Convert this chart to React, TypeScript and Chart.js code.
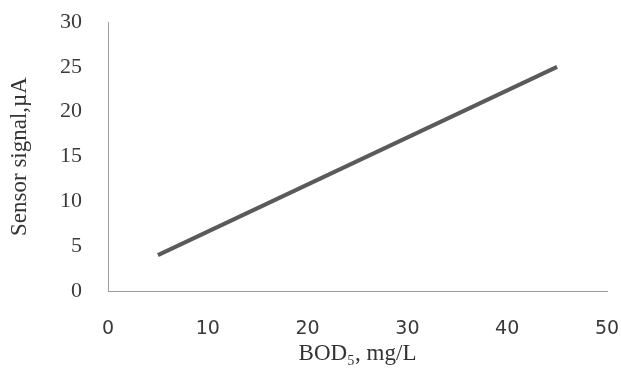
import React, { useEffect, useRef } from "react";
import { Chart, registerables } from "chart.js";

Chart.register(...registerables);

const bodValues = [5, 45];
const signalValues = [4, 25];
const xTickStep = 10;
const yTickStep = 5;
const xTitle = "BOD\u2085, mg/L";
const yTitle = "Sensor signal,\u00b5A";

export default function App() {
  const ref = useRef<HTMLCanvasElement | null>(null);
  useEffect(() => {
    if (!ref.current) return;
    const chart = new Chart(ref.current, {
      type: "line",
      data: {
        datasets: [
          {
            data: bodValues.map((x, i) => ({ x, y: signalValues[i] })),
            borderColor: "#5a5a5a",
            borderWidth: 4,
            pointRadius: 0,
            fill: false,
            tension: 0,
          },
        ],
      },
      options: {
        animation: false,
        responsive: false,
        maintainAspectRatio: false,
        layout: { padding: { top: 22, right: 14, left: 0, bottom: 0 } },
        plugins: { legend: { display: false }, tooltip: { enabled: false } },
        scales: {
          x: {
            type: "linear",
            min: 0,
            max: 50,
            afterFit: (s: any) => {
              s.height = 77;
              s.paddingLeft = 0;
              s.paddingRight = 0;
            },
            grid: { display: false, drawTicks: false },
            border: { display: true, color: "#9c9c9c", width: 1 },
            ticks: {
              stepSize: xTickStep,
              padding: 27,
              color: "#3a3a3a",
              font: { family: "DejaVu Sans", size: 19 },
              maxRotation: 0,
            },
            title: {
              display: true,
              text: xTitle,
              color: "#333333",
              font: { family: "Liberation Serif", size: 23 },
              padding: { top: 0, bottom: 0 },
            },
          },
          y: {
            min: 0,
            max: 30,
            afterFit: (s: any) => {
              s.width = 108;
              s.paddingTop = 0;
              s.paddingBottom = 0;
            },
            grid: { display: false, drawTicks: false },
            border: { display: true, color: "#9c9c9c", width: 1 },
            ticks: {
              stepSize: yTickStep,
              padding: 26,
              color: "#3a3a3a",
              font: { family: "Liberation Serif", size: 22 },
            },
            title: {
              display: true,
              text: yTitle,
              color: "#333333",
              font: { family: "Liberation Serif", size: 23 },
              padding: { top: 6, bottom: 0 },
            },
          },
        },
      },
    });
    return () => chart.destroy();
  }, []);
  return (
    <div style={{ position: "absolute", left: 0, top: 0, width: 621, height: 368, background: "#ffffff" }}>
      <canvas ref={ref} width={621} height={368} />
    </div>
  );
}
